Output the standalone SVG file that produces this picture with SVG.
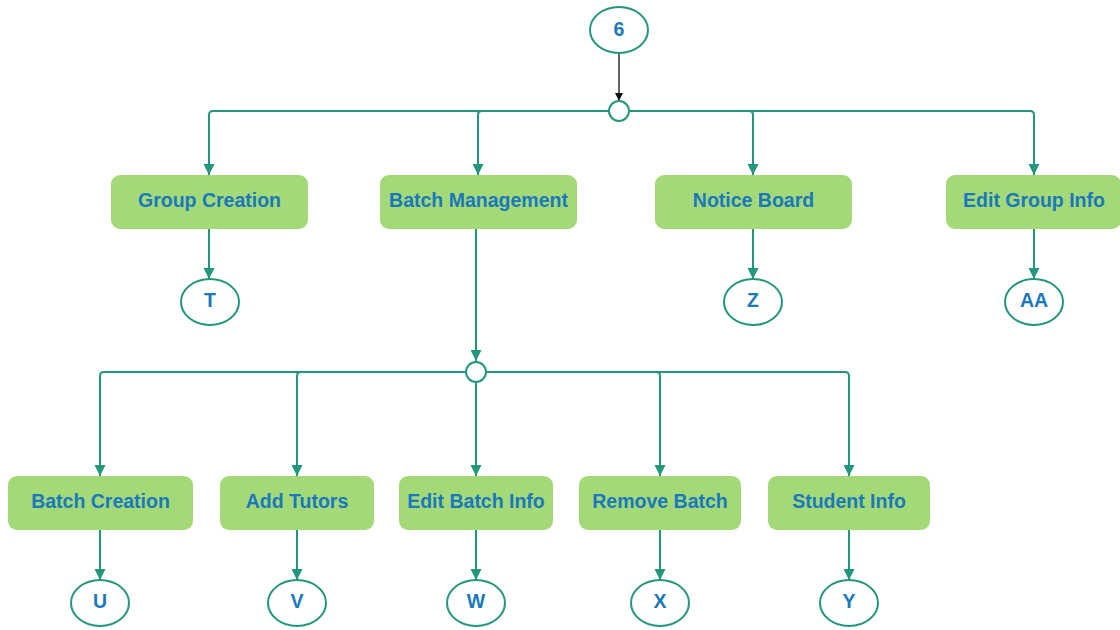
<svg xmlns="http://www.w3.org/2000/svg" width="1120" height="630" viewBox="0 0 1120 630">
  <style>
    .box { fill: #a3d977; }
    .lbl { font-family: "Liberation Sans", Arial, sans-serif; font-weight: bold; font-size: 19.5px; fill: #1a78bd; text-anchor: middle; dominant-baseline: central; }
    .ell { fill: #ffffff; stroke: #22977b; stroke-width: 2; }
    .wire { fill: none; stroke: #22977b; stroke-width: 2; }
    .wire-dark { fill: none; stroke: #111111; stroke-width: 1.3; }
  </style>
  <defs>
    <marker id="arr" viewBox="0 0 10 10" refX="10" refY="5" markerWidth="5.5" markerHeight="5.5" orient="auto" markerUnits="strokeWidth">
      <path d="M0,0 L10,5 L0,10 z" fill="#22977b"/>
    </marker>
    <marker id="arr-dark" viewBox="0 0 10 10" refX="10" refY="5" markerWidth="6.5" markerHeight="6.5" orient="auto" markerUnits="strokeWidth">
      <path d="M0,0 L10,5 L0,10 z" fill="#111111"/>
    </marker>
  </defs>

  <!-- connectors -->
  <g id="connectors">
    <path class="wire-dark" d="M619,53 V101" marker-end="url(#arr-dark)"/>
    <!-- top level split -->
    <path class="wire" d="M609,111 H213 Q209,111 209,115 V175" marker-end="url(#arr)"/>
    <path class="wire" d="M609,111 H482 Q478,111 478,115 V175" marker-end="url(#arr)"/>
    <path class="wire" d="M629,111 H749 Q753,111 753,115 V175" marker-end="url(#arr)"/>
    <path class="wire" d="M629,111 H1030 Q1034,111 1034,115 V175" marker-end="url(#arr)"/>
    <path class="wire" d="M209,229 V279" marker-end="url(#arr)"/>
    <path class="wire" d="M753,229 V279" marker-end="url(#arr)"/>
    <path class="wire" d="M1034,229 V279" marker-end="url(#arr)"/>
    <path class="wire" d="M476,229 V361" marker-end="url(#arr)"/>
    <!-- batch split -->
    <path class="wire" d="M466,372 H104 Q100,372 100,376 V476" marker-end="url(#arr)"/>
    <path class="wire" d="M466,372 H301 Q297,372 297,376 V476" marker-end="url(#arr)"/>
    <path class="wire" d="M476,382 V476" marker-end="url(#arr)"/>
    <path class="wire" d="M486,372 H656 Q660,372 660,376 V476" marker-end="url(#arr)"/>
    <path class="wire" d="M486,372 H845 Q849,372 849,376 V476" marker-end="url(#arr)"/>
    <path class="wire" d="M100,530 V580" marker-end="url(#arr)"/>
    <path class="wire" d="M297,530 V580" marker-end="url(#arr)"/>
    <path class="wire" d="M476,530 V580" marker-end="url(#arr)"/>
    <path class="wire" d="M660,530 V580" marker-end="url(#arr)"/>
    <path class="wire" d="M849,530 V580" marker-end="url(#arr)"/>
  </g>

  <g id="n6"><ellipse class="ell" cx="619" cy="30" rx="29" ry="23"/><text class="lbl" x="619" y="29">6</text></g>
  <g id="j1"><circle class="ell" cx="619" cy="111" r="10"/></g>

  <g id="group-creation"><rect class="box" x="111" y="175" width="197" height="54" rx="9"/><text class="lbl" x="209.5" y="199.5">Group Creation</text></g>
  <g id="batch-management"><rect class="box" x="380" y="175" width="197" height="54" rx="9"/><text class="lbl" x="478.5" y="199.5">Batch Management</text></g>
  <g id="notice-board"><rect class="box" x="655" y="175" width="197" height="54" rx="9"/><text class="lbl" x="753.5" y="199.5">Notice Board</text></g>
  <g id="edit-group-info"><rect class="box" x="946" y="175" width="175" height="54" rx="9"/><text class="lbl" x="1034" y="199.5">Edit Group Info</text></g>

  <g id="nT"><ellipse class="ell" cx="210" cy="302" rx="29" ry="23"/><text class="lbl" x="210" y="300">T</text></g>
  <g id="nZ"><ellipse class="ell" cx="753" cy="302" rx="29" ry="23"/><text class="lbl" x="753" y="300">Z</text></g>
  <g id="nAA"><ellipse class="ell" cx="1034" cy="302" rx="29" ry="23"/><text class="lbl" x="1034" y="300">AA</text></g>

  <g id="j2"><circle class="ell" cx="476" cy="372" r="10"/></g>

  <g id="batch-creation"><rect class="box" x="8" y="476" width="185" height="54" rx="9"/><text class="lbl" x="100.5" y="500.5">Batch Creation</text></g>
  <g id="add-tutors"><rect class="box" x="220" y="476" width="154" height="54" rx="9"/><text class="lbl" x="297" y="500.5">Add Tutors</text></g>
  <g id="edit-batch-info"><rect class="box" x="399" y="476" width="154" height="54" rx="9"/><text class="lbl" x="476" y="500.5">Edit Batch Info</text></g>
  <g id="remove-batch"><rect class="box" x="579" y="476" width="162" height="54" rx="9"/><text class="lbl" x="660" y="500.5">Remove Batch</text></g>
  <g id="student-info"><rect class="box" x="768" y="476" width="162" height="54" rx="9"/><text class="lbl" x="849" y="500.5">Student Info</text></g>

  <g id="nU"><ellipse class="ell" cx="100" cy="603" rx="29" ry="23"/><text class="lbl" x="100" y="601">U</text></g>
  <g id="nV"><ellipse class="ell" cx="297" cy="603" rx="29" ry="23"/><text class="lbl" x="297" y="601">V</text></g>
  <g id="nW"><ellipse class="ell" cx="476" cy="603" rx="29" ry="23"/><text class="lbl" x="476" y="601">W</text></g>
  <g id="nX"><ellipse class="ell" cx="660" cy="603" rx="29" ry="23"/><text class="lbl" x="660" y="601">X</text></g>
  <g id="nY"><ellipse class="ell" cx="849" cy="603" rx="29" ry="23"/><text class="lbl" x="849" y="601">Y</text></g>
</svg>
